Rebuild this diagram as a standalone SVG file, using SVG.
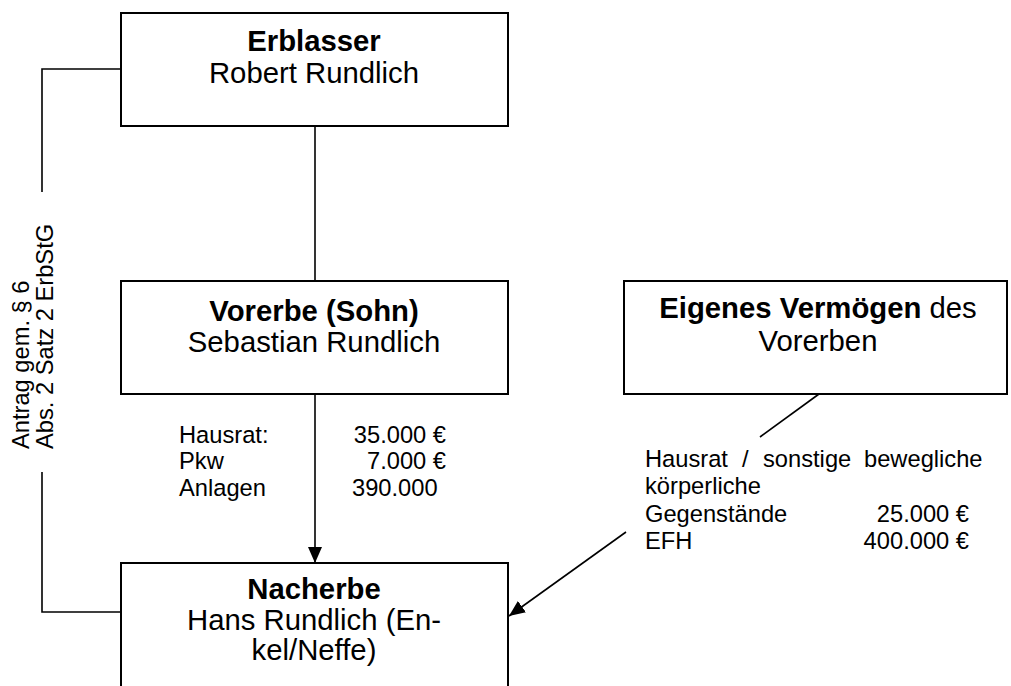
<svg xmlns="http://www.w3.org/2000/svg" width="1011" height="686" viewBox="0 0 1011 686">
  <style>
    .box { fill: #ffffff; stroke: #000000; stroke-width: 2; }
    .line { fill: none; stroke: #000000; stroke-width: 1.6; }
    .t { font-family: "Liberation Sans", Arial, sans-serif; fill: #000000; }
    .big { font-size: 29.3px; }
    .small { font-size: 23.7px; }
    .b { font-weight: bold; }
  </style>
  <defs>
    <marker id="arrow" markerUnits="userSpaceOnUse" markerWidth="16" markerHeight="14" refX="16" refY="7" orient="auto">
      <path d="M0,0 L16,7 L0,14 Z" fill="#000000"/>
    </marker>
  </defs>

  <rect width="1011" height="686" fill="#ffffff"/>

  <!-- connectors -->
  <g id="connectors">
    <line class="line" x1="315" y1="126" x2="315" y2="281"/>
    <line class="line" x1="315" y1="394" x2="315" y2="563" marker-end="url(#arrow)"/>
    <polyline class="line" points="121,69 42,69 42,192"/>
    <polyline class="line" points="42,472 42,612 121,612"/>
    <line class="line" x1="819" y1="394" x2="760" y2="437"/>
    <line class="line" x1="626" y1="532" x2="509" y2="616" marker-end="url(#arrow)"/>
  </g>

  <!-- side note on the left connector -->
  <g id="antrag-label" class="t small">
    <text transform="translate(29,449) rotate(-90)">Antrag gem. § 6</text>
    <text transform="translate(53,449) rotate(-90)">Abs. 2 Satz 2 ErbStG</text>
  </g>

  <g id="erblasser">
    <rect class="box" x="121" y="13" width="387" height="113"/>
    <text class="t big b" x="314" y="51" text-anchor="middle">Erblasser</text>
    <text class="t big" x="314" y="83" text-anchor="middle">Robert Rundlich</text>
  </g>

  <g id="vorerbe">
    <rect class="box" x="121" y="281" width="387" height="113"/>
    <text class="t big b" x="314" y="321" text-anchor="middle">Vorerbe (Sohn)</text>
    <text class="t big" x="314" y="352" text-anchor="middle">Sebastian Rundlich</text>
  </g>

  <g id="eigenes-vermoegen">
    <rect class="box" x="624" y="281" width="383" height="113"/>
    <text class="t big" x="818" y="318" text-anchor="middle"><tspan class="b">Eigenes Vermögen</tspan> des</text>
    <text class="t big" x="818" y="351" text-anchor="middle">Vorerben</text>
  </g>

  <g id="nacherbe">
    <rect class="box" x="121" y="563" width="387" height="140"/>
    <text class="t big b" x="314" y="599" text-anchor="middle">Nacherbe</text>
    <text class="t big" x="314" y="630" text-anchor="middle">Hans Rundlich (En-</text>
    <text class="t big" x="314" y="660" text-anchor="middle">kel/Neffe)</text>
  </g>

  <!-- estate items passed from Vorerbe to Nacherbe -->
  <g id="nachlass-posten" class="t small">
    <text x="179" y="443">Hausrat:</text>
    <text x="179" y="469">Pkw</text>
    <text x="179" y="496">Anlagen</text>
    <text x="446" y="443" text-anchor="end">35.000 €</text>
    <text x="446" y="469" text-anchor="end">7.000 €</text>
    <text x="352" y="496">390.000</text>
  </g>

  <!-- own assets of the Vorerbe -->
  <g id="eigene-posten" class="t small">
    <text y="467"><tspan x="645">Hausrat</tspan><tspan x="742">/</tspan><tspan x="763">sonstige</tspan><tspan x="864">bewegliche</tspan></text>
    <text x="645" y="494">körperliche</text>
    <text x="645" y="522">Gegenstände</text>
    <text x="645" y="549">EFH</text>
    <text x="969" y="522" text-anchor="end">25.000 €</text>
    <text x="969" y="549" text-anchor="end">400.000 €</text>
  </g>
</svg>
